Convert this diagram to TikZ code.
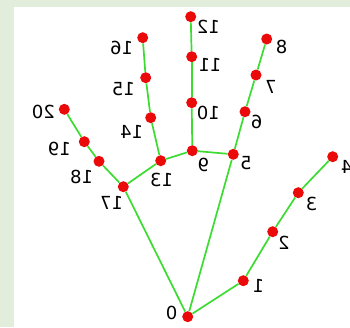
\documentclass[tikz,border=0pt]{standalone}
\usepackage{fontspec}
\setmainfont{DejaVu Sans}
\definecolor{handgreen}{RGB}{60,220,50}
\definecolor{dotred}{RGB}{235,10,10}
\definecolor{paneback}{RGB}{226,238,219}
\begin{document}
\begin{tikzpicture}[x=1pt, y=-1pt,
    pt/.style={circle, fill=dotred, inner sep=0pt, minimum width=11pt, minimum height=10pt},
    num/.style={font=\fontsize{18}{18}\selectfont, xscale=-1, inner sep=0pt},
    bone/.style={draw=handgreen, line width=1.7pt}]

  \useasboundingbox (0,0) rectangle (350,327);
  \fill[paneback] (0,0) rectangle (350,327);
  \fill[white] (14,7) rectangle (350,327);

  % landmarks and their numbers
  \foreach \i/\x/\y/\lx/\ly in {%
    0/187.7/316.7/171.7/313.3,
    1/243.3/280.7/258.3/286,
    2/272.7/231.7/284/243.3,
    3/298.3/192.7/311.7/204,
    4/332.7/156.7/346.7/166.7,
    5/233.3/154.3/246/163.3,
    6/245/111.7/256.7/121.7,
    7/256/75/271/87.3,
    8/266.7/39/281.7/46.7,
    9/192.3/150.7/203.3/165,
    10/191.7/102.7/208.3/113.3,
    11/191.7/56.7/210/65,
    12/190.7/16.7/208.3/26.7,
    13/160.7/160.7/161.7/180,
    14/150.7/117.7/131.7/131.7,
    15/145.7/77.7/123.3/89.3,
    16/142.7/37.7/121.7/48.3,
    17/123.3/186.7/111.7/202.7,
    18/99/161.3/81.7/176.7,
    19/84.3/141.7/59.3/149.3,
    20/64.3/109.3/43.3/111.7}
  {
    \node[pt] (p\i) at (\x,\y) {};
    \node[num] (n\i) at (\lx,\ly) {\i};
  }

  % bones
  \foreach \a/\b in {0/1, 1/2, 2/3, 3/4, 0/5, 5/6, 6/7, 7/8,
                     5/9, 9/10, 10/11, 11/12, 9/13, 13/14, 14/15, 15/16,
                     13/17, 17/18, 18/19, 19/20, 0/17}
    \draw[bone] (p\a) -- (p\b);
\end{tikzpicture}
\end{document}
